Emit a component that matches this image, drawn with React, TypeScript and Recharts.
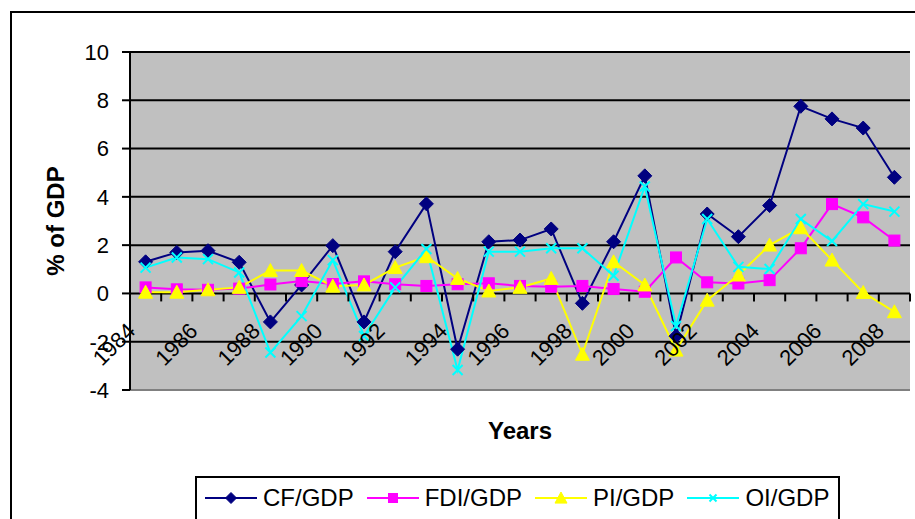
import { LineChart, Line, XAxis, YAxis, CartesianGrid, Legend, Label } from "recharts";

const FONT = "'Liberation Sans', Arial, sans-serif";

const years = [
  "1984", "1985", "1986", "1987", "1988", "1989", "1990", "1991", "1992", "1993", "1994", "1995", "1996",
  "1997", "1998", "1999", "2000", "2001", "2002", "2003", "2004", "2005", "2006", "2007", "2008",
];
const cfGdp = [1.31, 1.7, 1.77, 1.29, -1.18, 0.35, 1.98, -1.18, 1.73, 3.71, -2.31, 2.14, 2.21, 2.67, -0.41, 2.14, 4.87, -1.77, 3.29, 2.35, 3.64, 7.75, 7.23, 6.85, 4.81];
const fdiGdp = [0.25, 0.17, 0.15, 0.2, 0.37, 0.51, 0.39, 0.5, 0.38, 0.31, 0.38, 0.42, 0.31, 0.28, 0.31, 0.18, 0.07, 1.49, 0.46, 0.41, 0.55, 1.87, 3.7, 3.15, 2.19];
const piGdp = [0.05, 0.05, 0.15, 0.25, 0.95, 0.95, 0.3, 0.35, 1.07, 1.52, 0.62, 0.1, 0.25, 0.62, -2.52, 1.31, 0.35, -2.35, -0.28, 0.76, 2.0, 2.72, 1.38, 0.04, -0.76];
const oiGdp = [1.07, 1.49, 1.42, 0.87, -2.45, -0.94, 1.38, -1.76, 0.25, 1.84, -3.17, 1.73, 1.73, 1.87, 1.87, 0.73, 4.43, -1.35, 3.08, 1.1, 1.01, 3.08, 2.17, 3.7, 3.39];
const yTicks = [-4, -2, 0, 2, 4, 6, 8, 10];

const data = years.map((year, i) => ({ year, cf: cfGdp[i], fdi: fdiGdp[i], pi: piGdp[i], oi: oiGdp[i] }));

// chart geometry
const W = 915;
const H = 519;
const PLOT_LEFT = 130;
const PLOT_TOP = 52;
const PLOT_RIGHT = 910;
const PLOT_BOTTOM = 390;
const Y_MIN = -4;
const Y_MAX = 10;
const BAND = (PLOT_RIGHT - PLOT_LEFT) / years.length;
const ZERO_Y = PLOT_TOP + ((PLOT_BOTTOM - PLOT_TOP) * Y_MAX) / (Y_MAX - Y_MIN);
const BORDER = { stroke: "#808080", strokeWidth: 2 };

type Marker = (cx: number, cy: number, s: number, key?: string) => JSX.Element;

const diamond: Marker = (cx, cy, s, key) => (
  <path key={key} d={`M${cx},${cy - s}L${cx + s},${cy}L${cx},${cy + s}L${cx - s},${cy}Z`} fill="#000080" stroke="#000080" />
);
const square: Marker = (cx, cy, s, key) => (
  <rect key={key} x={cx - s} y={cy - s} width={s * 2} height={s * 2} fill="#FF00FF" stroke="#FF00FF" />
);
const triangle: Marker = (cx, cy, s, key) => (
  <path key={key} d={`M${cx},${cy - s}L${cx + s},${cy + s * 0.85}L${cx - s},${cy + s * 0.85}Z`} fill="#FFFF00" stroke="#FFFF00" />
);
const cross: Marker = (cx, cy, s, key) => (
  <path key={key} d={`M${cx - s},${cy - s}L${cx + s},${cy + s}M${cx + s},${cy - s}L${cx - s},${cy + s}`} stroke="#00FFFF" strokeWidth={2} fill="none" />
);

const series = [
  { key: "cf", name: "CF/GDP", color: "#000080", marker: diamond, size: 7, legendSize: 5.5 },
  { key: "fdi", name: "FDI/GDP", color: "#FF00FF", marker: square, size: 5.5, legendSize: 4.5 },
  { key: "pi", name: "PI/GDP", color: "#FFFF00", marker: triangle, size: 7, legendSize: 6 },
  { key: "oi", name: "OI/GDP", color: "#00FFFF", marker: cross, size: 5, legendSize: 3.5 },
];

// category labels sit under the zero line, like Excel's crossing axis
function XTick(props: any) {
  const { x, index, payload } = props;
  const ax = x - 9;
  const ay = ZERO_Y + 39;
  return (
    <g>
      <line x1={x + BAND / 2} x2={x + BAND / 2} y1={ZERO_Y} y2={ZERO_Y + 8} stroke="#000" strokeWidth={2} />
      {index % 2 === 0 && (
        <text x={ax} y={ay} transform={`rotate(-45 ${ax} ${ay})`} textAnchor="end" fontSize={22} fontFamily={FONT} fill="#000">
          {payload.value}
        </text>
      )}
    </g>
  );
}

function YTitle(props: any) {
  const vb = props.viewBox;
  const x = vb.x - 6;
  const y = vb.y + vb.height / 2;
  return (
    <text x={x} y={y} transform={`rotate(-90 ${x} ${y})`} textAnchor="middle" fontSize={24} fontWeight="bold" fontFamily={FONT} fill="#000">
      % of GDP
    </text>
  );
}

function XTitle(props: any) {
  const vb = props.viewBox;
  return (
    <text x={vb.x + vb.width / 2} y={vb.y + 49} textAnchor="middle" fontSize={24} fontWeight="bold" fontFamily={FONT} fill="#000">
      Years
    </text>
  );
}

function LegendBox() {
  return (
    <div style={{ display: "flex", alignItems: "center", paddingLeft: 8, paddingTop: 6, fontFamily: FONT, fontSize: 24, lineHeight: "28px" }}>
      {series.map((s) => (
        <div key={s.key} style={{ display: "flex", alignItems: "center", marginRight: 13 }}>
          <svg width={52} height={20} style={{ marginRight: 6 }}>
            <line x1={0} x2={52} y1={10} y2={10} stroke={s.color} strokeWidth={2} />
            {s.marker(26, 10, s.legendSize)}
          </svg>
          <span>{s.name}</span>
        </div>
      ))}
    </div>
  );
}

export default function App() {
  return (
    <div style={{ position: "absolute", left: 0, top: 0, width: W, height: H, overflow: "hidden", background: "#fff" }}>
      <div style={{ position: "absolute", left: 10, top: 11, width: 940, height: 560, border: "2px solid #000" }} />
      <LineChart
        width={W}
        height={H}
        data={data}
        margin={{ top: PLOT_TOP, right: W - PLOT_RIGHT, left: PLOT_LEFT - 60, bottom: H - PLOT_BOTTOM - 30 }}
        style={{ position: "absolute", left: 0, top: 0 }}
      >
        <CartesianGrid vertical={false} stroke="#000" strokeWidth={2} fill="#C0C0C0" fillOpacity={1} />
        <XAxis
          dataKey="year"
          height={30}
          interval={0}
          axisLine={BORDER}
          tickLine={false}
          padding={{ left: BAND / 2, right: BAND / 2 }}
          tick={<XTick />}
        >
          <Label content={<XTitle />} />
        </XAxis>
        <XAxis xAxisId="top" dataKey="year" orientation="top" height={0} axisLine={BORDER} tick={false} tickLine={false} />
        <YAxis
          width={60}
          domain={[Y_MIN, Y_MAX]}
          ticks={yTicks}
          interval={0}
          axisLine={{ stroke: "#000", strokeWidth: 2 }}
          tickLine={{ stroke: "#000", strokeWidth: 2 }}
          tickSize={8}
          tickMargin={13}
          tick={{ fontSize: 22, fill: "#000", fontFamily: FONT }}
        >
          <Label content={<YTitle />} />
        </YAxis>
        <YAxis yAxisId="right" orientation="right" width={0} domain={[Y_MIN, Y_MAX]} axisLine={BORDER} tick={false} tickLine={false} />
        {series.map((s) => (
          <Line
            key={s.key}
            type="linear"
            dataKey={s.key}
            name={s.name}
            stroke={s.color}
            strokeWidth={2}
            dot={(p: any) => s.marker(p.cx, p.cy, s.size, `${s.key}-${p.index}`)}
            activeDot={false}
            isAnimationActive={false}
          />
        ))}
        <Legend
          layout="horizontal"
          verticalAlign="middle"
          align="center"
          content={<LegendBox />}
          wrapperStyle={{ left: 195, top: 476, width: 645, height: 70, border: "2px solid #000", background: "#fff", boxSizing: "border-box" }}
        />
      </LineChart>
    </div>
  );
}
